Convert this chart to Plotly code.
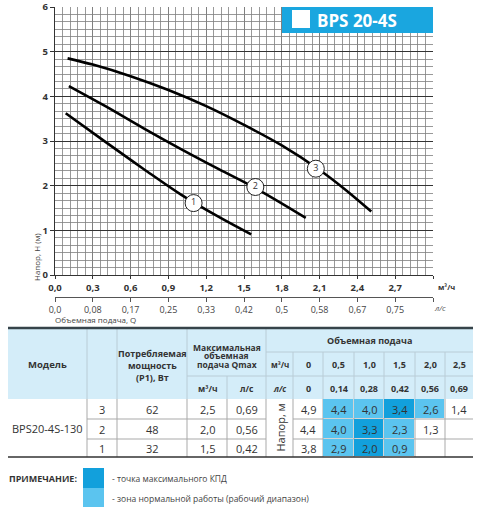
import plotly.graph_objects as go

W, H = 502, 512
def fx(p): return p / W
def fy(p): return 1 - p / H

# ---------------- data ----------------
Q_TICKS = [0.0, 0.3, 0.6, 0.9, 1.2, 1.5, 1.8, 2.1, 2.4, 2.7, 3.0]
Q_TICK_TEXT = ["0,0", "0,3", "0,6", "0,9", "1,2", "1,5", "1,8", "2,1", "2,4", "2,7", ""]
LS_TICK_TEXT = ["0,0", "0,08", "0,17", "0,25", "0,33", "0,42", "0,5", "0,58", "0,67", "0,75", ""]
H_TICKS = [0, 1, 2, 3, 4, 5, 6]

Q1 = [0.085, 0.4, 0.7, 1.0, 1.3, 1.557]
H1 = [3.62, 2.98, 2.38, 1.80, 1.30, 0.91]
Q2 = [0.11, 0.4, 0.7, 1.0, 1.3, 1.6, 1.99]
H2 = [4.23, 3.78, 3.29, 2.82, 2.37, 1.93, 1.28]
Q3 = [0.1, 0.3, 0.6, 0.9, 1.2, 1.5, 1.8, 2.1, 2.3, 2.51]
H3 = [4.85, 4.71, 4.45, 4.14, 3.78, 3.36, 2.90, 2.35, 1.92, 1.42]
LABEL_Q = [1.10, 1.59, 2.07]
LABEL_H = [1.61, 1.97, 2.38]
LABEL_TXT = ["1", "2", "3"]

MODEL = "BPS20-4S-130"
SPEEDS = ["3", "2", "1"]
POWER = ["62", "48", "32"]
QMAX_M3H = ["2,5", "2,0", "1,5"]
QMAX_LS = ["0,69", "0,56", "0,42"]
FLOW_M3H = ["0", "0,5", "1,0", "1,5", "2,0", "2,5"]
FLOW_LS = ["0", "0,14", "0,28", "0,42", "0,56", "0,69"]
HEADS = [
    [4.9, 4.4, 4.0, 3.4, 2.6, 1.4],
    [4.4, 4.0, 3.3, 2.3, 1.3, None],
    [3.8, 2.9, 2.0, 0.9, None, None],
]
# 1 = normal working zone, 2 = max efficiency point, None = plain
ZONE = [
    [None, 1, 1, 2, 1, None],
    [None, 1, 2, 1, None, None],
    [None, 1, 2, 1, None, None],
]

LIGHT = "#5bc4ef"
DARK = "#12a0dc"
HEAD_BG = "#d4edf9"
FONT = "Open Sans"
TXT = "#333333"

fig = go.Figure()

# ---------------- chart ----------------
for q, h in [(Q1, H1), (Q2, H2), (Q3, H3)]:
    fig.add_trace(go.Scatter(x=q, y=h, mode="lines", line=dict(color="black", width=2.6, shape="spline"),
                             hoverinfo="skip", showlegend=False))
fig.add_trace(go.Scatter(x=LABEL_Q, y=LABEL_H, mode="markers+text", text=LABEL_TXT,
                         textposition="middle center",
                         textfont=dict(family=FONT, size=9, color=TXT),
                         marker=dict(size=17, color="white", line=dict(color="#222", width=1)),
                         hoverinfo="skip", showlegend=False))

grid = "#808080"
fig.update_layout(
    xaxis=dict(domain=[fx(55), fx(433)], range=[0, 3], tickvals=Q_TICKS, ticktext=Q_TICK_TEXT,
               showgrid=True, gridcolor=grid, gridwidth=1, zeroline=False, automargin=False,
               minor=dict(dtick=0.06, tick0=0, showgrid=True, gridcolor=grid, gridwidth=0.8),
               ticks="outside", ticklen=3, tickcolor="#333", showline=True, linecolor="#333", linewidth=1.2,
               tickfont=dict(family=FONT, size=9.5, color=TXT, weight="bold"), anchor="y"),
    yaxis=dict(domain=[fy(275), fy(7)], range=[0, 6], tickvals=H_TICKS, automargin=False,
               showgrid=True, gridcolor="#333", gridwidth=1, zeroline=False,
               minor=dict(dtick=1 / 6, tick0=0, showgrid=True, gridcolor=grid, gridwidth=0.8),
               ticks="outside", ticklen=4, tickcolor="#333", showline=True, linecolor="#333", linewidth=1.2,
               tickfont=dict(family=FONT, size=9.5, color=TXT, weight="bold"), anchor="x"),
    xaxis2=dict(overlaying="x", anchor="free", position=fy(297), range=[0, 3], tickvals=Q_TICKS,
                ticktext=LS_TICK_TEXT, showgrid=False, zeroline=False, showline=True, linecolor="#555",
                ticks="outside", ticklen=4, tickcolor="#555", side="bottom", automargin=False,
                tickfont=dict(family=FONT, size=9, color="#444")),
)
fig.add_trace(go.Scatter(x=Q3, y=H3, xaxis="x2", yaxis="y", mode="lines", line=dict(width=0),
                         opacity=0, hoverinfo="skip", showlegend=False))

# ---------------- table axes ----------------
fig.update_layout(
    xaxis3=dict(domain=[0, 1], range=[0, W], visible=False, anchor="y3", automargin=False),
    yaxis3=dict(domain=[0, fy(325)], range=[H, 325], visible=False, anchor="x3", automargin=False),
)

COL_EDGES = [8, 87, 117, 187, 227, 266, 293]
FLOW_EDGES = [293, 323, 354, 384, 415, 445, 473]
ROW_EDGES = [399, 419, 439, 457]
row_c = [(ROW_EDGES[i] + ROW_EDGES[i + 1]) / 2 for i in range(3)]
flow_c = [(FLOW_EDGES[i] + FLOW_EDGES[i + 1]) / 2 for i in range(6)]

fig.add_trace(go.Heatmap(x=FLOW_EDGES, y=ROW_EDGES, z=ZONE, xaxis="x3", yaxis="y3",
                         colorscale=[[0, LIGHT], [0.5, LIGHT], [0.5, DARK], [1, DARK]], zmin=1, zmax=2,
                         showscale=False, xgap=1, ygap=1, hoverinfo="skip"))

shapes = []
def line(x0, y0, x1, y1, color, width=1, ref=("x3", "y3"), layer="below"):
    shapes.append(dict(type="line", x0=x0, y0=y0, x1=x1, y1=y1, xref=ref[0], yref=ref[1],
                       line=dict(color=color, width=width), layer=layer))

shapes.append(dict(type="rect", x0=8, x1=473, y0=328, y1=399, xref="x3", yref="y3",
                   fillcolor=HEAD_BG, line=dict(width=0), layer="below"))
hsep = "#b9ccd6"
for x in [87, 117, 187, 266]:
    line(x, 328, x, 399, hsep)
line(227, 376, 227, 399, hsep)
for x in FLOW_EDGES[:-1]:
    line(x, 352, x, 399, hsep)
line(187, 376, 266, 376, hsep)
line(266, 352, 473, 352, hsep)
line(266, 376, 473, 376, hsep)
bsep = "#a9a9a9"
for x in COL_EDGES[1:] + FLOW_EDGES[1:-1]:
    line(x, 399, x, 457, bsep)
for y in ROW_EDGES[1:-1]:
    line(87, y, 266, y, bsep)
    line(293, y, 473, y, bsep)
line(8, 328, 473, 328, "#36434a", 2.5, layer="above")
line(8, 457, 473, 457, "#333", 1.5, layer="above")

# legend swatches
shapes.append(dict(type="rect", x0=83, x1=104, y0=468, y1=488, xref="x3", yref="y3",
                   fillcolor=DARK, line=dict(width=0)))
shapes.append(dict(type="rect", x0=83, x1=104, y0=488, y1=507, xref="x3", yref="y3",
                   fillcolor=LIGHT, line=dict(width=0)))

# title box
shapes.append(dict(type="rect", x0=fx(282), x1=fx(433), y0=fy(33), y1=fy(7), xref="paper", yref="paper",
                   fillcolor="#1aa6df", line=dict(width=0), layer="above"))
shapes.append(dict(type="rect", x0=fx(292), x1=fx(310), y0=fy(28), y1=fy(10), xref="paper", yref="paper",
                   fillcolor="white", line=dict(width=0), layer="above"))

ann = []
def t(x, y, s, size=11, bold=False, color=TXT, xanchor="center", ref=("x3", "y3"), angle=0, style="normal"):
    ann.append(dict(x=x, y=y, text=s, xref=ref[0], yref=ref[1], showarrow=False, xanchor=xanchor,
                    yanchor="middle", textangle=angle,
                    font=dict(family=FONT, size=size, color=color, weight="bold" if bold else "normal",
                              style=style)))

# chart texts
t(fx(315), fy(20), "BPS 20-4S", size=17, bold=True, color="white", xanchor="left", ref=("paper", "paper"))
t(fx(436), fy(287), "м³/ч", size=7.5, bold=True, xanchor="left", ref=("paper", "paper"))
t(fx(432), fy(307), "л/с", size=8, color="#555", xanchor="left", ref=("paper", "paper"), style="italic")
t(fx(53), fy(319), "Объемная подача, Q", size=8, color="#444", xanchor="left", ref=("paper", "paper"))
t(fx(36), fy(257), "Напор, H (м)", size=8, color="#444", ref=("paper", "paper"), angle=-90)

# table header
t(47.5, 364, "Модель", size=9.5, bold=True)
for y, s in zip([353, 365, 377], ["Потребляемая", "мощность", "(P1), Вт"]):
    t(152, y, s, size=9, bold=True)
for y, s in zip([347, 355.5, 364], ["Максимальная", "объемная", "подача Qmax"]):
    t(226.5, y, s, size=8.5, bold=True)
t(207, 388, "м³/ч", size=8.5, bold=True)
t(246.5, 388, "л/с", size=8.5, bold=True)
t(369.5, 340, "Объемная подача", size=9, bold=True)
t(279.5, 364, "м³/ч", size=8, bold=True)
t(279.5, 388, "л/с", size=8, bold=True, style="italic")
for c, a, b in zip(flow_c, FLOW_M3H, FLOW_LS):
    t(c, 364, a, size=9, bold=True)
    t(c, 388, b, size=9, bold=True)

# table body
t(47.5, 428, MODEL, size=11)
t(279.5, 428, "Напор, м", size=11, angle=-90)
for i in range(3):
    t(102, row_c[i], SPEEDS[i])
    t(152, row_c[i], POWER[i])
    t(207, row_c[i], QMAX_M3H[i])
    t(246.5, row_c[i], QMAX_LS[i])
    for j in range(6):
        v = HEADS[i][j]
        if v is not None:
            t(flow_c[j], row_c[i], f"{v:.1f}".replace(".", ","))

# notes
t(7, 478, "ПРИМЕЧАНИЕ:", size=9, bold=True, xanchor="left")
t(110, 478, "- точка максимального КПД", size=8.5, color="#444", xanchor="left")
t(110, 498, "- зона нормальной работы (рабочий диапазон)", size=8.5, color="#444", xanchor="left")

fig.update_layout(width=W, height=H, margin=dict(l=0, r=0, t=0, b=0, pad=0, autoexpand=False),
                  paper_bgcolor="white", plot_bgcolor="rgba(0,0,0,0)",
                  shapes=shapes, annotations=ann, showlegend=False)

fig.write_html("out.html", config={"displayModeBar": False, "staticPlot": True},
               post_script="document.body.style.margin='0px';")
